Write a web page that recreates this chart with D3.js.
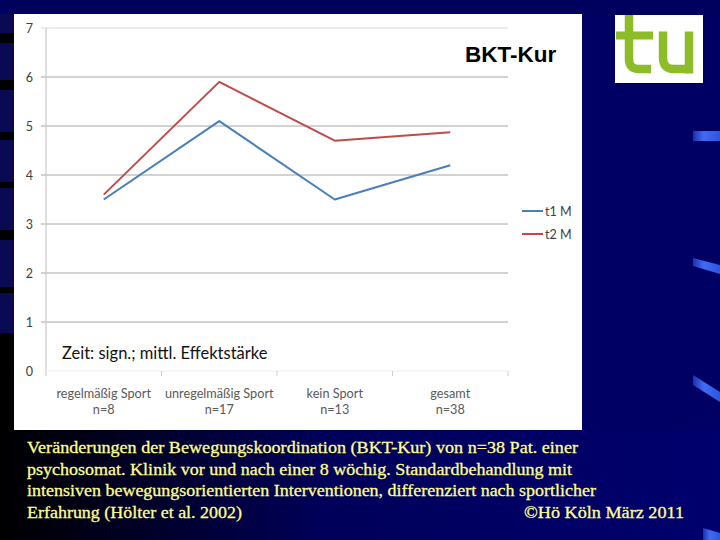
<!DOCTYPE html>
<html>
<head>
<meta charset="utf-8">
<script src="https://cdn.jsdelivr.net/npm/d3@7"></script>
<style>
  html, body { margin: 0; padding: 0; background: #000064; }
  svg { display: block; }
</style>
</head>
<body>
<svg id="chart" width="720" height="540"></svg>
<script>
// ---- data ----
const categories = ["regelmäßig Sport", "unregelmäßig Sport", "kein Sport", "gesamt"];
const groupSizes = ["n=8", "n=17", "n=13", "n=38"];
const seriesNames = ["t1 M", "t2 M"];
const t1Values = [3.5, 5.1, 3.5, 4.2];
const t2Values = [3.6, 5.9, 4.7, 4.87];
const yTickValues = [0, 1, 2, 3, 4, 5, 6, 7];
const chartTitle = "BKT-Kur";
const noteText = "Zeit: sign.; mittl. Effektstärke";
const captionLines = [
  "Veränderungen der Bewegungskoordination (BKT-Kur) von n=38 Pat. einer",
  "psychosomat. Klinik vor und nach einer 8 wöchig. Standardbehandlung mit",
  "intensiven bewegungsorientierten Interventionen, differenziert nach sportlicher",
  "Erfahrung (Hölter et al. 2002)"
];
const copyrightText = "©Hö Köln März 2011";

const svg = d3.select("#chart");
const defs = svg.append("defs");

// ---- slide background ----
const bgGrad = defs.append("linearGradient").attr("id", "bgGrad")
  .attr("x1", "0").attr("y1", "0").attr("x2", "1").attr("y2", "0");
bgGrad.append("stop").attr("offset", "0").attr("stop-color", "#000000");
bgGrad.append("stop").attr("offset", "0.45").attr("stop-color", "#00005a");
bgGrad.append("stop").attr("offset", "1").attr("stop-color", "#00006e");
svg.append("rect").attr("width", 720).attr("height", 540).attr("fill", "#000064");
svg.append("rect").attr("x", 0).attr("y", 430).attr("width", 720).attr("height", 110).attr("fill", "url(#bgGrad)");
// left border strip
svg.append("rect").attr("x", 0).attr("y", 0).attr("width", 14).attr("height", 430).attr("fill", "#000000");
const stripBlocks = [[0, 33], [43, 80], [90, 132], [140, 182], [188, 230], [240, 287], [293, 333]];
svg.selectAll("rect.strip").data(stripBlocks).join("rect").attr("class", "strip")
  .attr("x", 0).attr("width", 14)
  .attr("y", d => d[0]).attr("height", d => d[1] - d[0])
  .attr("fill", "#0a0a52");
svg.append("rect").attr("x", 0).attr("y", 0).attr("width", 720).attr("height", 14).attr("fill", "#00005e");

// light streaks on the right
const streakGrad = defs.append("linearGradient").attr("id", "streak")
  .attr("x1", "0").attr("y1", "0").attr("x2", "1").attr("y2", "0");
streakGrad.append("stop").attr("offset", "0").attr("stop-color", "#1a2fb0");
streakGrad.append("stop").attr("offset", "0.4").attr("stop-color", "#3f6cf2");
streakGrad.append("stop").attr("offset", "1").attr("stop-color", "#2d55e0");
const streaks = [
  [[693, 131], [720, 131], [720, 141], [693, 141]],
  [[693, 258], [720, 265], [720, 274], [693, 266]],
  [[693, 375], [720, 392], [720, 402], [693, 385]],
  [[703, 528], [720, 533], [720, 540], [703, 540]]
];
svg.selectAll("polygon.streak").data(streaks).join("polygon").attr("class", "streak")
  .attr("points", d => d.map(p => p.join(",")).join(" "))
  .attr("fill", "url(#streak)");

// ---- white chart panel ----
svg.append("rect").attr("x", 14).attr("y", 14).attr("width", 568).attr("height", 416).attr("fill", "#ffffff");

// ---- scales ----
const x = d3.scaleBand().domain(categories).range([46, 508]);
const y = d3.scaleLinear().domain([0, 7]).range([371, 28]);
const cx = c => x(c) + x.bandwidth() / 2;

const g = svg.append("g");

// gridlines
g.selectAll("line.grid").data(yTickValues.filter(v => v > 0)).join("line").attr("class", "grid")
  .attr("x1", 41).attr("x2", x.range()[1])
  .attr("y1", d => y(d)).attr("y2", d => y(d))
  .attr("stroke", d => d === 7 ? "#d8d8d8" : "#a6a6a6").attr("stroke-width", 1);

// y axis line
g.append("line").attr("x1", 46).attr("x2", 46).attr("y1", y(7)).attr("y2", y(0) + 5)
  .attr("stroke", "#c8c8c8").attr("stroke-width", 1.2);
// x axis line (very light) and ticks at category boundaries
g.append("line").attr("x1", 46).attr("x2", x.range()[1]).attr("y1", y(0)).attr("y2", y(0))
  .attr("stroke", "#eeeeee").attr("stroke-width", 1);
const boundaries = categories.map(c => x(c) + x.bandwidth());
g.selectAll("line.xtick").data(boundaries).join("line").attr("class", "xtick")
  .attr("x1", d => d).attr("x2", d => d).attr("y1", y(0)).attr("y2", y(0) + 5)
  .attr("stroke", "#cfcfcf").attr("stroke-width", 1);

// y tick labels
g.selectAll("text.ylab").data(yTickValues).join("text").attr("class", "ylab")
  .attr("x", 33).attr("y", d => y(d)).attr("dy", "0.36em")
  .attr("text-anchor", "end")
  .attr("font-family", "Lato, 'Open Sans', sans-serif").attr("font-size", 12.5)
  .attr("fill", "#404040").text(d => d);

// category labels
g.selectAll("text.cat").data(categories).join("text").attr("class", "cat")
  .attr("x", d => cx(d)).attr("y", 397.5).attr("text-anchor", "middle")
  .attr("font-family", "Lato, 'Open Sans', sans-serif").attr("font-size", 12.7)
  .attr("fill", "#595959").text(d => d);
g.selectAll("text.nlab").data(groupSizes).join("text").attr("class", "nlab")
  .attr("x", (d, i) => cx(categories[i])).attr("y", 413.5).attr("text-anchor", "middle")
  .attr("font-family", "Lato, 'Open Sans', sans-serif").attr("font-size", 12.7)
  .attr("fill", "#595959").text(d => d);

// series lines
const series = [
  { name: seriesNames[0], values: t1Values, color: "#4a7ebb" },
  { name: seriesNames[1], values: t2Values, color: "#be4b48" }
];
const line = d3.line().x((d, i) => cx(categories[i])).y(d => y(d));
g.selectAll("path.series").data(series).join("path").attr("class", "series")
  .attr("d", d => line(d.values))
  .attr("fill", "none").attr("stroke", d => d.color).attr("stroke-width", 2)
  .attr("stroke-linejoin", "round");

// legend
const legend = g.selectAll("g.leg").data(series).join("g").attr("class", "leg")
  .attr("transform", (d, i) => `translate(0,${211 + i * 23})`);
legend.append("line").attr("x1", 522).attr("x2", 543).attr("y1", 0).attr("y2", 0)
  .attr("stroke", d => d.color).attr("stroke-width", 2);
legend.append("text").attr("x", 545).attr("y", 0).attr("dy", "0.36em")
  .attr("font-family", "Lato, 'Open Sans', sans-serif").attr("font-size", 12.5)
  .attr("fill", "#404040").text(d => d.name);

// title
svg.append("text").attr("x", 465).attr("y", 62)
  .attr("font-family", "'Liberation Sans', Arial, sans-serif").attr("font-weight", "bold")
  .attr("font-size", 22.5).attr("fill", "#000").text(chartTitle);

// note
svg.append("text").attr("x", 62).attr("y", 358.5)
  .attr("font-family", "Lato, 'Open Sans', sans-serif").attr("font-size", 16.5)
  .attr("fill", "#111").text(noteText);

// ---- logo ----
const logo = svg.append("g");
logo.append("rect").attr("x", 615).attr("y", 15).attr("width", 88).attr("height", 68).attr("fill", "#ffffff");
const green = "#8cbc28";
logo.append("rect").attr("x", 616).attr("y", 31.5).attr("width", 37).attr("height", 8).attr("fill", green);
logo.append("path").attr("d", "M629,15 V59 Q629,69 639,69 H651")
  .attr("fill", "none").attr("stroke", green).attr("stroke-width", 8.5);
logo.append("path").attr("d", "M663,31.5 V58 Q663,69 674,69 H689")
  .attr("fill", "none").attr("stroke", green).attr("stroke-width", 8.5);
logo.append("path").attr("d", "M689,31.5 V73.5")
  .attr("fill", "none").attr("stroke", green).attr("stroke-width", 8.5);

// ---- caption ----
const capWidths = [551, 545, 569, 215];
const capBase = [453, 474.5, 496, 517.5];
svg.selectAll("text.cap").data(captionLines).join("text").attr("class", "cap")
  .attr("x", 27).attr("y", (d, i) => capBase[i])
  .attr("textLength", (d, i) => capWidths[i]).attr("lengthAdjust", "spacingAndGlyphs")
  .attr("font-family", "'Liberation Serif', 'Times New Roman', serif").attr("font-size", 17.5)
  .attr("fill", "#ffff8c").attr("stroke", "#ffff8c").attr("stroke-width", 0.3)
  .text(d => d);
svg.append("text").attr("x", 524).attr("y", 517.5)
  .attr("textLength", 160).attr("lengthAdjust", "spacingAndGlyphs")
  .attr("font-family", "'Liberation Serif', 'Times New Roman', serif").attr("font-size", 17.5)
  .attr("fill", "#ffff8c").attr("stroke", "#ffff8c").attr("stroke-width", 0.3)
  .text(copyrightText);
</script>
</body>
</html>
